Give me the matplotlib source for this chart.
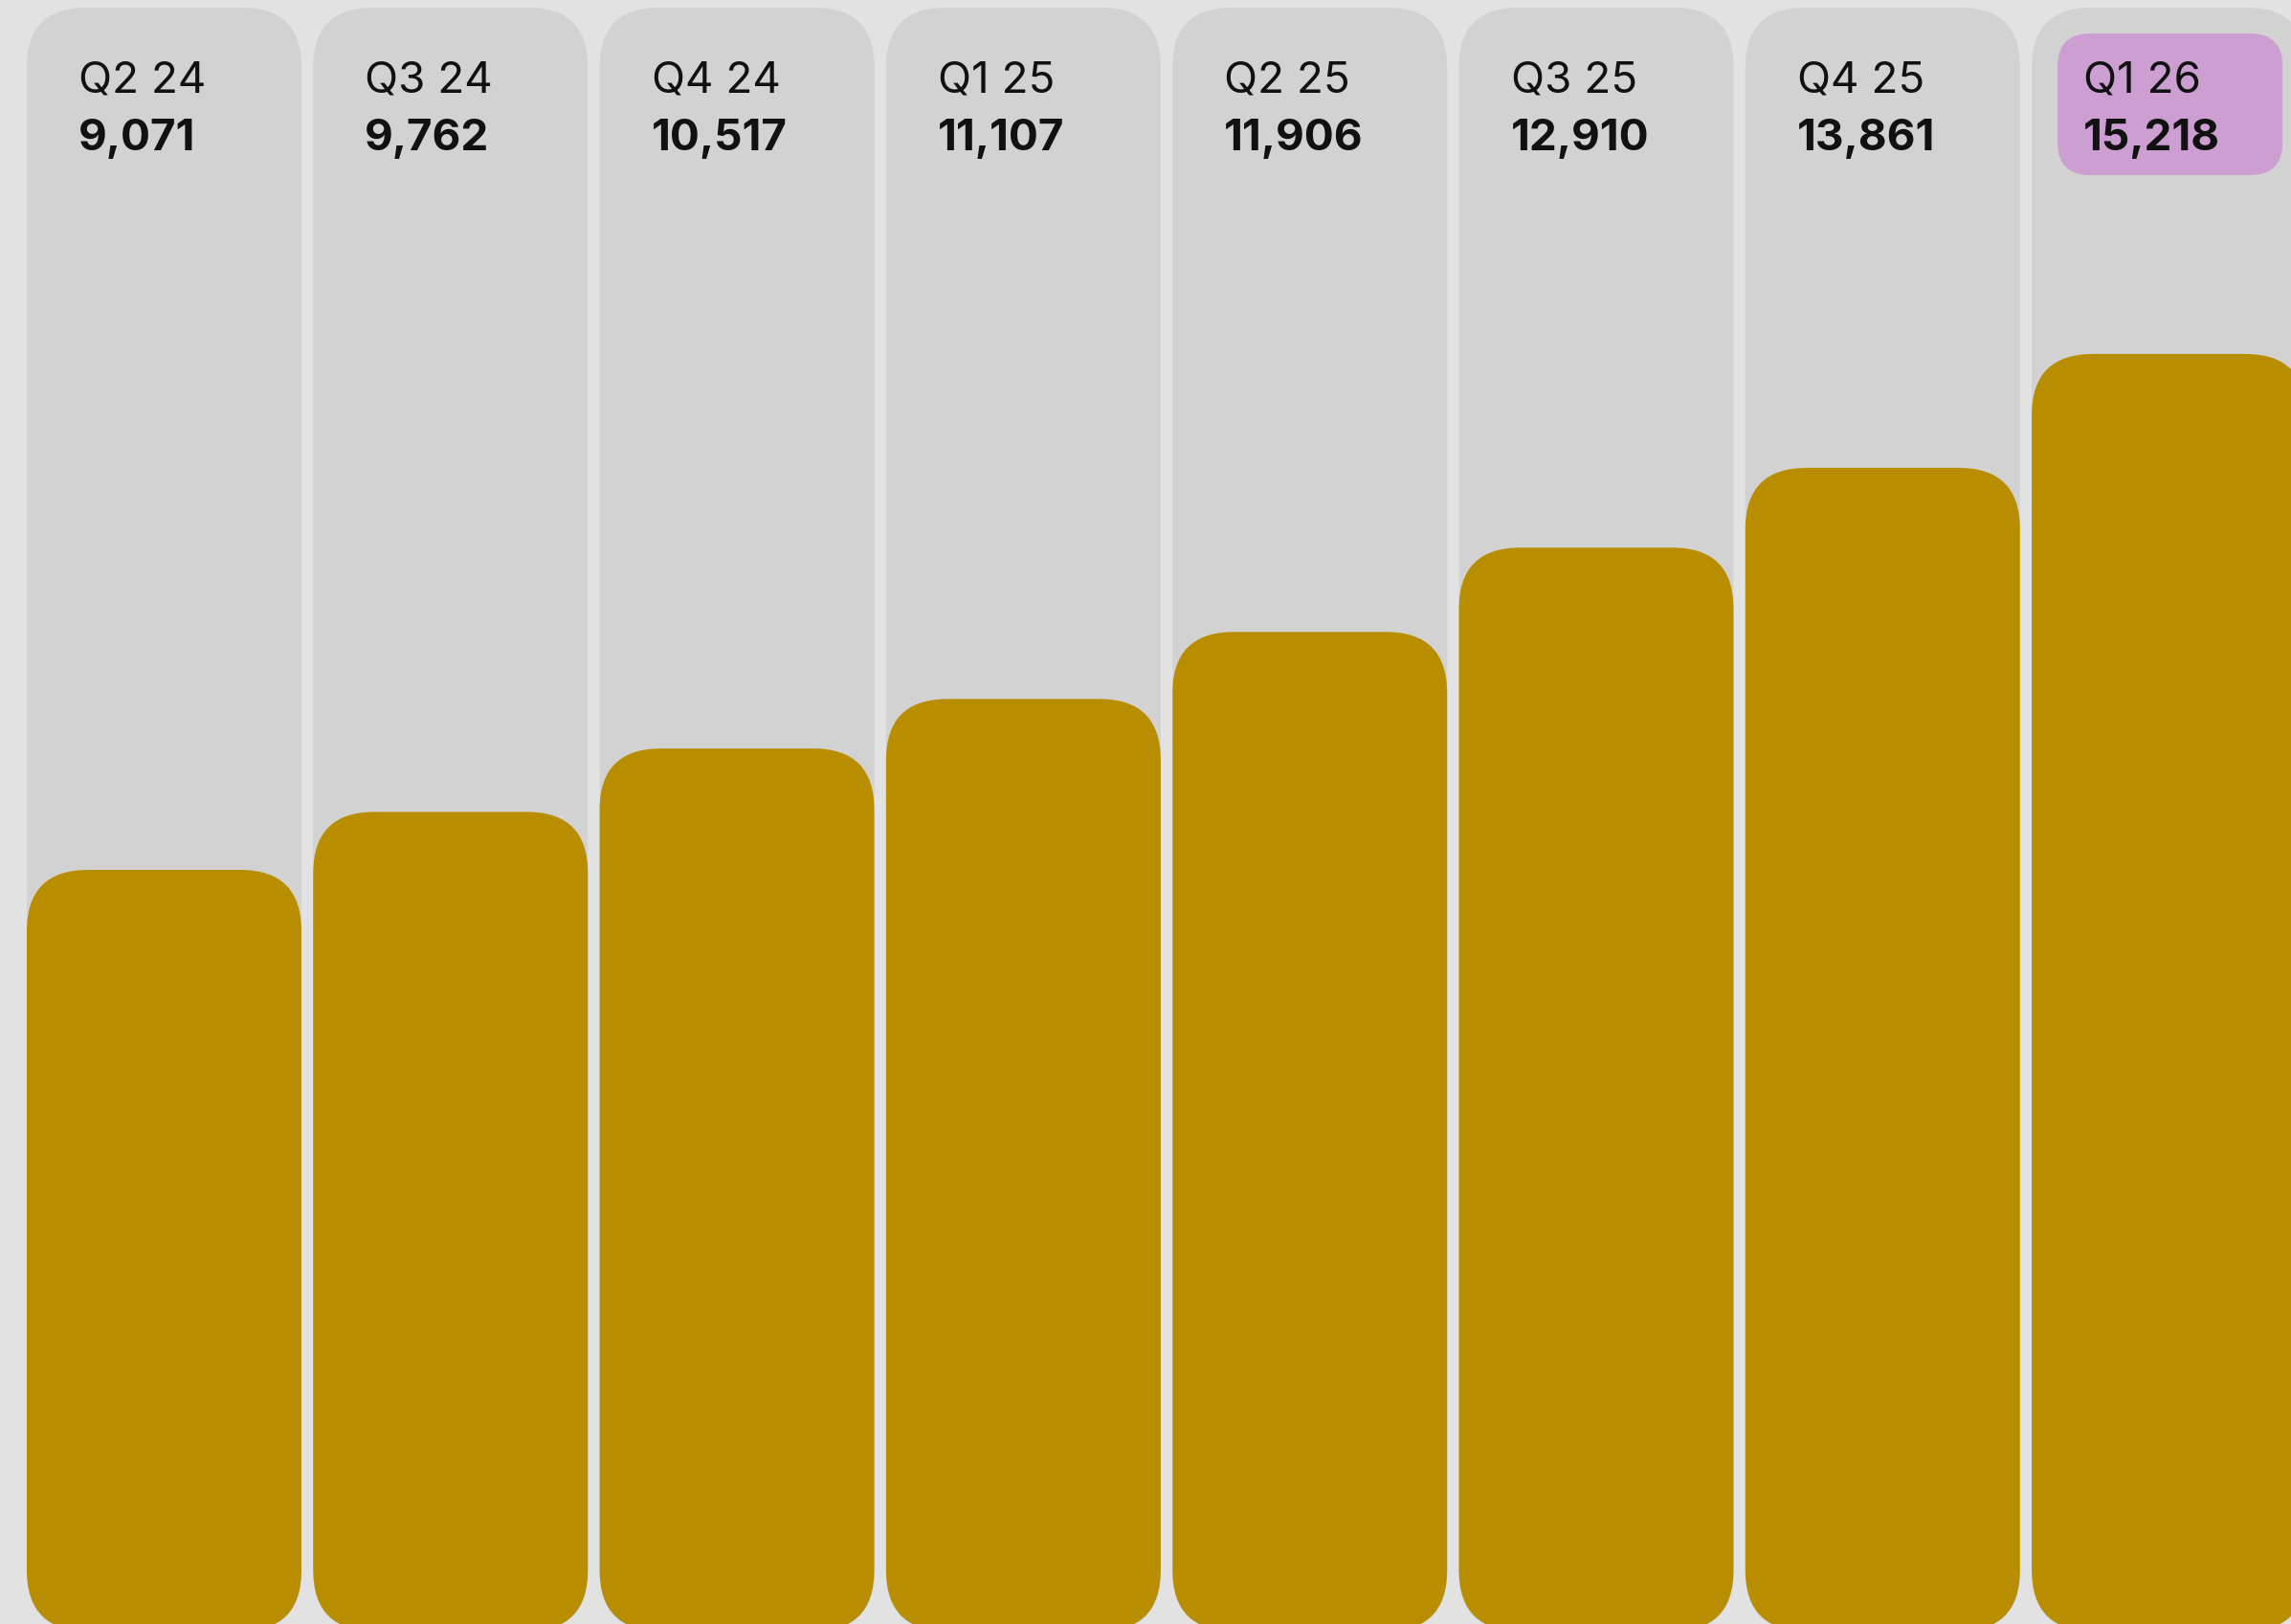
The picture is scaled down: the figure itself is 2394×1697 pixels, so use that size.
import matplotlib.pyplot as plt
from matplotlib.patches import FancyBboxPatch

quarters = ["Q2 24", "Q3 24", "Q4 24", "Q1 25", "Q2 25", "Q3 25", "Q4 25", "Q1 26"]
values = [9071, 9762, 10517, 11107, 11906, 12910, 13861, 15218]
highlight = "Q1 26"

W, H, DPI = 2394, 1697, 100
X_PX = 299.3      # pixels per category step
Y_PX = 0.0877     # pixels per unit of value
BASE_PX = 1704.5  # pixel row of zero (just under the bottom edge)
LEFT_PX = 28
COL_PX = 287

bg = "#e2e2e2"
col_bg = "#d2d2d2"
bar_color = "#b98d00"
hl_color = "#cc9ed2"

plt.rcParams["font.family"] = ["Inter", "DejaVu Sans"]


def row(px):
    # pixel row from the top -> value on the y axis
    return (BASE_PX - px) / Y_PX


def rounded(ax, x, y, w, h, r_px, color, z):
    p = FancyBboxPatch((x, y), w, h,
                       boxstyle=f"round,pad=0,rounding_size={r_px / X_PX}",
                       mutation_aspect=X_PX / Y_PX,
                       fc=color, ec="none", zorder=z)
    ax.add_patch(p)


fig = plt.figure(figsize=(W / DPI, H / DPI), dpi=DPI)
fig.patch.set_facecolor(bg)
ax = fig.add_axes([0, 0, 1, 1])
ax.set_facecolor(bg)
x0 = -(LEFT_PX + COL_PX / 2) / X_PX
ax.set_xlim(x0, x0 + W / X_PX)
ax.set_ylim(row(H), row(0))
ax.axis("off")

w = COL_PX / X_PX
for i, (q, v) in enumerate(zip(quarters, values)):
    left = i - w / 2
    rounded(ax, left, 0, w, row(8), 62, col_bg, 1)
    rounded(ax, left, 0, w, v, 64, bar_color, 2)
    tx = left + 54 / X_PX
    if q == highlight:
        rounded(ax, tx - 27 / X_PX, row(183), 235 / X_PX, row(35) - row(183), 34, hl_color, 3)
    ax.text(tx, row(97), q, fontsize=33, color="#111111", va="baseline", ha="left", zorder=4)
    ax.text(tx, row(157), f"{v:,}", fontsize=33, fontweight="bold", color="#111111",
            va="baseline", ha="left", zorder=4)

fig.savefig("out.png", dpi=DPI, facecolor=bg)
